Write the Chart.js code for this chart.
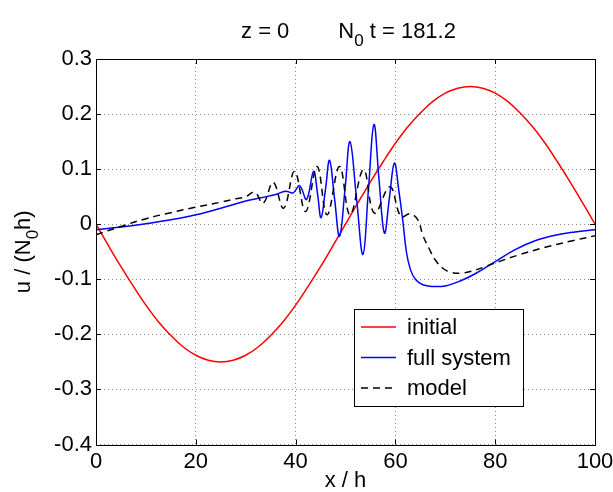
<!DOCTYPE html>
<html>
<head>
<meta charset="utf-8">
<script src="https://cdn.jsdelivr.net/npm/chart.js@4.4.1/dist/chart.umd.min.js"></script>
<style>
  html, body { margin: 0; padding: 0; background: #fff; }
</style>
</head>
<body>
<canvas id="myChart" width="613" height="492"></canvas>
<script>
// initial profile
const initialX = [0, 2.5, 5, 7.5, 10, 12.5, 15, 17.5, 20, 22.5, 25, 27.5, 30, 32.5, 35, 37.5, 40, 42.5, 45, 47.5,
  50, 52.5, 55, 57.5, 60, 62.5, 65, 67.5, 70, 72.5, 75, 77.5, 80, 82.5, 85, 87.5, 90, 92.5, 95, 97.5, 100];
const initialY = [0, -0.039, -0.077, -0.113, -0.147, -0.177, -0.202, -0.223, -0.238, -0.247, -0.25, -0.247, -0.238, -0.223, -0.202, -0.177, -0.147, -0.113, -0.077, -0.039,
  0, 0.039, 0.077, 0.113, 0.147, 0.177, 0.202, 0.223, 0.238, 0.247, 0.25, 0.247, 0.238, 0.223, 0.202, 0.177, 0.147, 0.113, 0.077, 0.039, 0];

// full system
const fullX = [0, 5, 10, 15, 20, 25, 30, 33, 36, 38, 39.5, 40.8, 42.2, 43.6, 44.4, 45.1, 46, 46.8, 47.8, 48.8,
  49.9, 50.9, 52.2, 53.5, 54.6, 55.7, 56.7, 57.8, 58.8, 59.8, 60.7, 61.5, 62.2, 63, 64, 65.5, 67.5, 70, 73, 76,
  80, 84, 88, 92, 96, 100];
const fullY = [-0.010, -0.005, 0.001, 0.008, 0.017, 0.029, 0.042, 0.048, 0.054, 0.060, 0.057, 0.070, 0.045, 0.096, 0.055, 0.012, 0.064, 0.116, 0.047, -0.022,
  0.063, 0.150, 0.048, -0.055, 0.063, 0.181, 0.083, -0.016, 0.048, 0.111, 0.060, 0.005, -0.050, -0.082, -0.100, -0.110, -0.113, -0.112, -0.103, -0.090,
  -0.068, -0.046, -0.030, -0.020, -0.014, -0.010];

// model
const modelX = [0, 5, 10, 15, 20, 25, 28, 30, 31.8, 33.5, 35.5, 37.6, 39.8, 42.0, 44.3, 46.3, 48.8, 50.9, 53.6, 55.8,
  58.9, 61.1, 63, 64.5, 65.5, 66.8, 68, 69.5, 71, 73, 75, 78, 81, 85, 90, 95, 100];
const modelY = [-0.019, -0.004, 0.010, 0.021, 0.031, 0.040, 0.046, 0.050, 0.058, 0.038, 0.076, 0.029, 0.096, 0.023, 0.105, 0.017, 0.105, 0.017, 0.099, 0.020,
  0.068, 0.014, 0.019, 0.008, -0.020, -0.045, -0.065, -0.080, -0.087, -0.089, -0.086, -0.077, -0.067, -0.055, -0.042, -0.031, -0.021];

const xTicks = [0, 20, 40, 60, 80, 100];
const yTicks = [-0.4, -0.3, -0.2, -0.1, 0, 0.1, 0.2, 0.3];

const FONT = "'Liberation Sans', Arial, Helvetica, sans-serif";

function pts(xs, ys) {
  return xs.map((x, i) => ({ x: x, y: ys[i] }));
}

// draws a run of text pieces, some of them lowered as subscripts
function drawParts(ctx, parts, x, y) {
  parts.forEach((p) => {
    ctx.font = (p.sub ? 17 : 22) + "px " + FONT;
    ctx.fillText(p.t, x, y + (p.sub ? 8 : 0));
    x += ctx.measureText(p.t).width;
  });
}
function partsWidth(ctx, parts) {
  let w = 0;
  parts.forEach((p) => {
    ctx.font = (p.sub ? 17 : 22) + "px " + FONT;
    w += ctx.measureText(p.t).width;
  });
  return w;
}

const decor = {
  id: "decor",
  afterDraw(chart) {
    const ctx = chart.ctx;
    const a = chart.chartArea;
    const xs = chart.scales.x, ys = chart.scales.y;
    ctx.save();
    ctx.fillStyle = "#000";
    ctx.strokeStyle = "#000";
    ctx.lineWidth = 1;

    // box and inward ticks
    ctx.strokeRect(Math.round(a.left) + 0.5, Math.round(a.top) + 0.5, Math.round(a.right - a.left), Math.round(a.bottom - a.top));
    ctx.beginPath();
    xTicks.forEach((v) => {
      const px = Math.round(xs.getPixelForValue(v)) + 0.5;
      ctx.moveTo(px, a.bottom); ctx.lineTo(px, a.bottom - 5);
      ctx.moveTo(px, a.top); ctx.lineTo(px, a.top + 5);
    });
    yTicks.forEach((v) => {
      const py = Math.round(ys.getPixelForValue(v)) + 0.5;
      ctx.moveTo(a.left, py); ctx.lineTo(a.left + 5, py);
      ctx.moveTo(a.right, py); ctx.lineTo(a.right - 5, py);
    });
    ctx.stroke();

    // title
    ctx.textBaseline = "alphabetic";
    ctx.textAlign = "left";
    const title = [{ t: "z = 0" }, { t: "        N" }, { t: "0", sub: true }, { t: " t = 181.2" }];
    const cx = (a.left + a.right) / 2 + 3;
    drawParts(ctx, title, cx - partsWidth(ctx, title) / 2, 38);

    // x label
    ctx.font = "22px " + FONT;
    ctx.textAlign = "center";
    ctx.fillText("x / h", cx - 3, 487);

    // y label
    ctx.textAlign = "left";
    const ylab = [{ t: "u / (N" }, { t: "0", sub: true }, { t: "h)" }];
    ctx.save();
    ctx.translate(30, (a.top + a.bottom) / 2);
    ctx.rotate(-Math.PI / 2);
    drawParts(ctx, ylab, -partsWidth(ctx, ylab) / 2, 0);
    ctx.restore();

    // legend
    const lx = 354.5, ly = 309.5, lw = 169, lh = 97;
    ctx.fillStyle = "#fff";
    ctx.fillRect(lx, ly, lw, lh);
    ctx.strokeStyle = "#000";
    ctx.strokeRect(lx, ly, lw, lh);
    ctx.font = "22px " + FONT;
    ctx.textBaseline = "middle";
    chart.data.datasets.forEach((ds, i) => {
      const yy = 327 + i * 30.5;
      ctx.strokeStyle = ds.borderColor;
      ctx.lineWidth = 1.5;
      ctx.setLineDash(ds.borderDash || []);
      ctx.beginPath();
      ctx.moveTo(361, yy); ctx.lineTo(396, yy);
      ctx.stroke();
      ctx.setLineDash([]);
      ctx.fillStyle = "#000";
      ctx.fillText(ds.label, 407, yy + 1);
    });
    ctx.restore();
  }
};

const ctx = document.getElementById("myChart");

new Chart(ctx, {
  type: "line",
  data: {
    datasets: [
      {
        label: "initial",
        data: pts(initialX, initialY),
        borderColor: "#ff0000",
        borderWidth: 1.5,
        pointRadius: 0,
        tension: 0.4,
        order: 2,
      },
      {
        label: "full system",
        data: pts(fullX, fullY),
        borderColor: "#0000ff",
        borderWidth: 1.5,
        pointRadius: 0,
        tension: 0.4,
        order: 1,
      },
      {
        label: "model",
        data: pts(modelX, modelY),
        borderColor: "#000000",
        borderWidth: 1.5,
        borderDash: [7, 5],
        pointRadius: 0,
        tension: 0.4,
        order: 0,
      },
    ],
  },
  options: {
    responsive: false,
    animation: false,
    devicePixelRatio: 1,
    layout: { padding: { left: 40, right: 18, top: 59, bottom: 0 } },
    plugins: {
      legend: { display: false },
      title: { display: false },
      tooltip: { enabled: false },
    },
    scales: {
      x: {
        type: "linear",
        min: 0,
        max: 100,
        afterBuildTicks: (s) => { s.ticks = xTicks.map((v) => ({ value: v })); },
        afterFit: (s) => { s.height = 47.5; s.paddingLeft = 0; s.paddingRight = 0; },
        ticks: { color: "#000", font: { size: 22, family: FONT }, padding: 4, maxRotation: 0 },
        grid: { color: "#8c8c8c", drawTicks: false, lineWidth: 1 },
        border: { display: false, dash: [1, 3] },
      },
      y: {
        min: -0.4,
        max: 0.3,
        afterBuildTicks: (s) => { s.ticks = yTicks.map((v) => ({ value: v })); },
        afterFit: (s) => { s.width = 56; s.paddingTop = 0; s.paddingBottom = 0; },
        ticks: {
          color: "#000",
          font: { size: 22, family: FONT },
          padding: 4,
          callback: (v) => (Math.round(v * 10) / 10).toString(),
        },
        grid: { color: "#8c8c8c", drawTicks: false, lineWidth: 1 },
        border: { display: false, dash: [1, 3] },
      },
    },
  },
  plugins: [decor],
});
</script>
</body>
</html>
